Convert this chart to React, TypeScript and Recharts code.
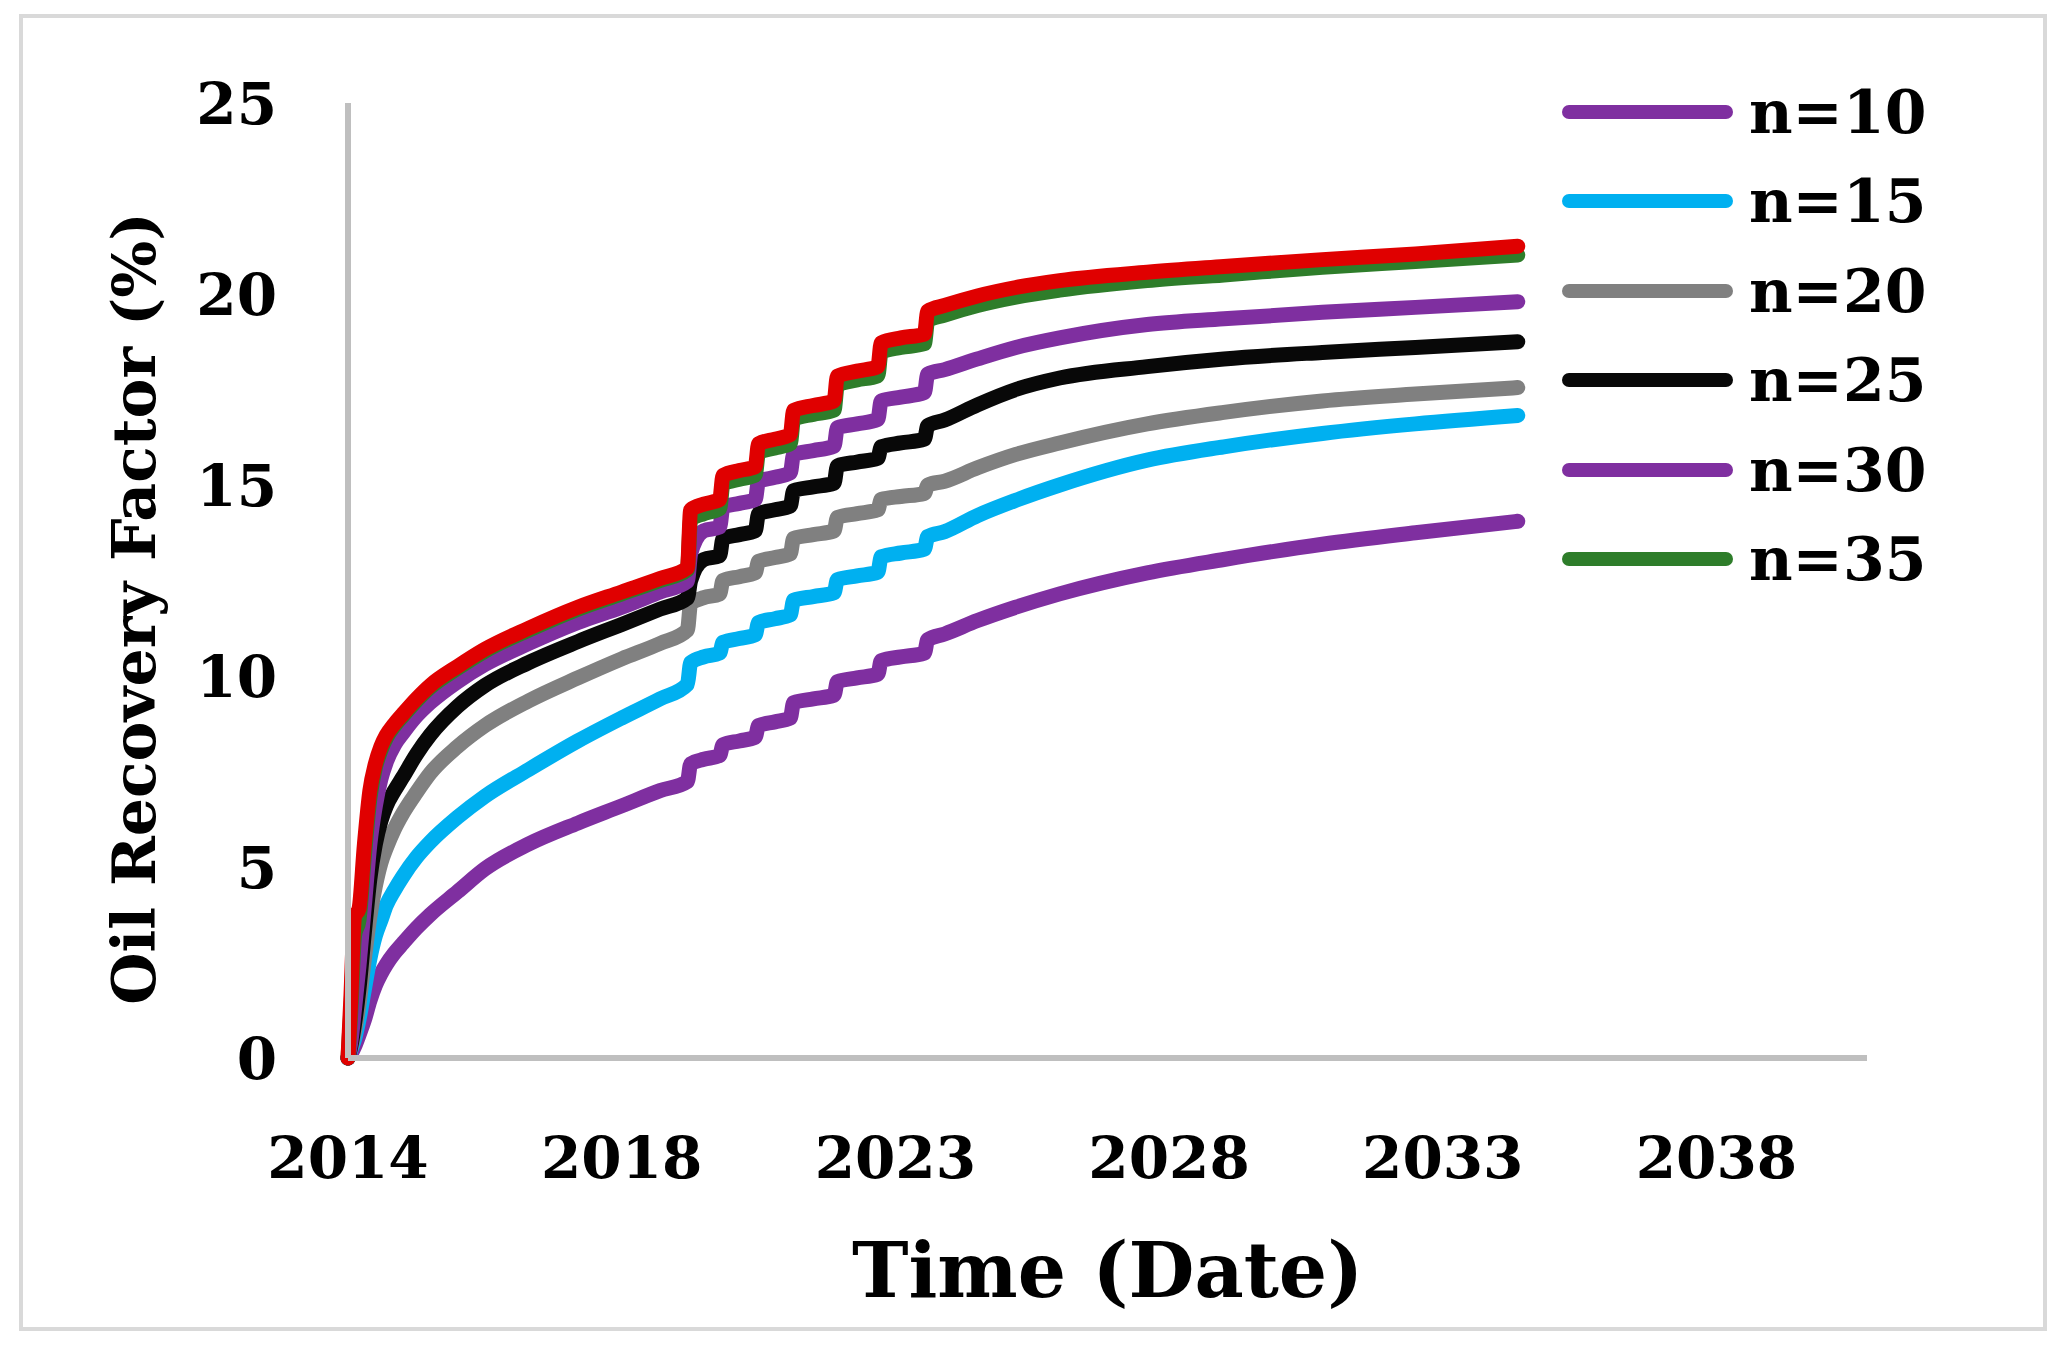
import { LineChart, Line, XAxis, YAxis, Legend, Label } from "recharts";

// time in years after Jan 2014
const years = [
  0, 0.05, 0.12, 0.2, 0.3, 0.4, 0.5, 0.6, 0.7, 0.85,
  1.0, 1.25, 1.5, 2.0, 2.5, 3.3, 4.2, 5.0, 5.7, 6.2,
  6.26, 6.5, 6.79, 6.85, 7.15, 7.44, 7.5, 7.8, 8.08, 8.14,
  8.5, 8.88, 8.94, 9.3, 9.68, 9.74, 10.1, 10.53, 10.59, 10.9,
  11.5, 12.2, 13.0, 14.6, 16.0, 17.8, 19.5, 21.37,
];

const n10 = [
  0, 0.1, 0.3, 0.6, 1.0, 1.5, 1.9, 2.2, 2.45, 2.75,
  3.0, 3.4, 3.75, 4.35, 4.95, 5.6, 6.15, 6.6, 7.0, 7.24,
  7.7, 7.82, 7.92, 8.2, 8.3, 8.4, 8.7, 8.8, 8.9, 9.3,
  9.4, 9.5, 9.85, 9.95, 10.05, 10.4, 10.5, 10.6, 10.95, 11.1,
  11.45, 11.8, 12.15, 12.7, 13.05, 13.45, 13.75, 14.05,
];
const n15 = [
  0, 0.2, 0.5, 1.0, 1.8, 2.6, 3.2, 3.6, 4.0, 4.4,
  4.75, 5.25, 5.65, 6.3, 6.85, 7.55, 8.3, 8.9, 9.4, 9.78,
  10.35, 10.5, 10.6, 10.88, 10.98, 11.08, 11.4, 11.5, 11.6, 11.98,
  12.08, 12.18, 12.52, 12.62, 12.72, 13.12, 13.22, 13.32, 13.65, 13.78,
  14.2, 14.6, 15.0, 15.65, 16.0, 16.35, 16.6, 16.82,
];
const n20 = [
  0, 0.25, 0.7, 1.4, 2.6, 3.7, 4.5, 5.1, 5.5, 6.0,
  6.4, 6.95, 7.45, 8.15, 8.7, 9.35, 9.95, 10.45, 10.85, 11.2,
  11.9, 12.05, 12.15, 12.5, 12.6, 12.7, 13.0, 13.1, 13.2, 13.6,
  13.7, 13.8, 14.15, 14.25, 14.35, 14.62, 14.7, 14.78, 15.0, 15.1,
  15.45, 15.8, 16.1, 16.6, 16.9, 17.2, 17.38, 17.55,
];
const n25 = [
  0, 0.3, 0.9, 1.8, 3.3, 4.7, 5.6, 6.2, 6.6, 7.0,
  7.35, 7.95, 8.45, 9.2, 9.75, 10.35, 10.9, 11.35, 11.75, 12.04,
  12.5, 13.05, 13.15, 13.6, 13.7, 13.8, 14.25, 14.35, 14.45, 14.85,
  14.95, 15.05, 15.5, 15.6, 15.7, 16.0, 16.1, 16.2, 16.55, 16.7,
  17.1, 17.5, 17.8, 18.1, 18.3, 18.47, 18.6, 18.75,
];
const n30 = [
  0, 0.4, 1.3, 2.4, 4.0, 5.6, 6.6, 7.3, 7.75, 8.2,
  8.5, 8.95, 9.3, 9.85, 10.3, 10.85, 11.4, 11.8, 12.2, 12.48,
  13.2, 13.8, 13.9, 14.42, 14.52, 14.62, 15.1, 15.2, 15.32, 15.8,
  15.9, 16.02, 16.5, 16.6, 16.72, 17.2, 17.3, 17.42, 17.9, 18.02,
  18.3, 18.6, 18.85, 19.2, 19.35, 19.52, 19.65, 19.8,
];
const n35 = [
  0, 1.2, 3.2, 3.6, 5.3, 6.8, 7.6, 8.05, 8.38, 8.7,
  8.95, 9.35, 9.7, 10.2, 10.65, 11.2, 11.75, 12.15, 12.5, 12.78,
  14.1, 14.25, 14.38, 15.02, 15.15, 15.26, 15.85, 15.97, 16.08, 16.72,
  16.85, 16.96, 17.62, 17.75, 17.86, 18.48, 18.6, 18.7, 19.3, 19.45,
  19.7, 19.92, 20.1, 20.35, 20.5, 20.7, 20.85, 21.02,
];
// red curve has no legend entry in the original
const n40 = [
  0, 1.5, 3.7, 3.9, 5.6, 7.0, 7.7, 8.15, 8.45, 8.75,
  9.0, 9.4, 9.75, 10.25, 10.7, 11.25, 11.8, 12.2, 12.55, 12.83,
  14.35, 14.5, 14.62, 15.25, 15.38, 15.48, 16.08, 16.2, 16.32, 16.95,
  17.08, 17.2, 17.85, 17.98, 18.1, 18.72, 18.85, 18.95, 19.55, 19.7,
  19.95, 20.17, 20.35, 20.57, 20.72, 20.9, 21.05, 21.25,
];

const xTicks = [0, 5, 10, 15, 20, 25];
const yearLabels = ["2014", "2018", "2023", "2028", "2033", "2038"];
const yTicks = [0, 5, 10, 15, 20, 25];

const series = [
  { key: "n10", name: "n=10", color: "#7f2fa0", values: n10, legend: true },
  { key: "n15", name: "n=15", color: "#00b0f0", values: n15, legend: true },
  { key: "n20", name: "n=20", color: "#808080", values: n20, legend: true },
  { key: "n25", name: "n=25", color: "#080808", values: n25, legend: true },
  { key: "n30", name: "n=30", color: "#7f2fa0", values: n30, legend: true },
  { key: "n35", name: "n=35", color: "#2e7d2a", values: n35, legend: true },
  { key: "n40", name: "n=40", color: "#e00000", values: n40, legend: false },
];
const legendNames = series.filter((s) => s.legend).map((s) => s.name);

const data = years.map((t, i) => {
  const row: any = { t };
  series.forEach((s) => (row[s.key] = s.values[i]));
  return row;
});

const FONT = "'DejaVu Serif', serif";
const AXIS_GRAY = "#bfbfbf";
const LINE_W = 15;

const renderLegend = (props: any) => (
  <div>
    {(props.payload || [])
      .filter((p: any) => legendNames.includes(p.value))
      .map((p: any) => (
        <div key={p.value} style={{ display: "flex", alignItems: "center", height: 89.5 }}>
          <svg width={171} height={24}>
            <line x1={7} y1={12} x2={164} y2={12} stroke={p.color} strokeWidth={LINE_W - 1} strokeLinecap="round" />
          </svg>
          <span style={{ marginLeft: 16, fontFamily: FONT, fontWeight: 700, fontSize: 60, color: "#000", lineHeight: 1 }}>
            {p.value}
          </span>
        </div>
      ))}
  </div>
);

const YTitle = (props: any) => {
  const vb = props.viewBox || { x: 0, y: 103, width: 348, height: 955 };
  const cx = vb.x + 155;
  const cy = vb.y + vb.height / 2 + 28;
  return (
    <text x={cx} y={cy} transform={`rotate(-90 ${cx} ${cy})`} textAnchor="middle"
      fontFamily={FONT} fontWeight={700} fontSize={60} fill="#000">
      Oil Recovery Factor (%)
    </text>
  );
};

const XTitle = (props: any) => {
  const vb = props.viewBox || { x: 348, y: 1058, width: 1519, height: 291 };
  return (
    <text x={vb.x + vb.width / 2} y={vb.y + 239} textAnchor="middle"
      fontFamily={FONT} fontWeight={700} fontSize={76} fill="#000">
      Time (Date)
    </text>
  );
};

export default function App() {
  return (
    <div style={{ position: "absolute", left: 0, top: 0, width: 2065, height: 1349, background: "#fff" }}>
      <div style={{ position: "absolute", left: 19, top: 14, width: 2028, height: 1317, border: "4px solid #d9d9d9", boxSizing: "border-box" }} />
      <div style={{ position: "absolute", left: 0, top: 0 }}>
        <LineChart width={2065} height={1349} data={data} margin={{ top: 103, right: 198, bottom: 0, left: 0 }}>
          <XAxis
            dataKey="t"
            type="number"
            domain={[0, 27.75]}
            ticks={xTicks}
            tickFormatter={(v: number, i: number) => yearLabels[i] ?? String(v)}
            height={291}
            axisLine={{ stroke: AXIS_GRAY, strokeWidth: 6 }}
            tickLine={false}
            tickSize={0}
            tickMargin={79}
            tick={{ fill: "#000", fontSize: 58, fontFamily: FONT, fontWeight: 700 }}
            interval={0}
          >
            <Label content={<XTitle />} />
          </XAxis>
          <YAxis
            type="number"
            domain={[0, 25]}
            ticks={yTicks}
            width={348}
            axisLine={{ stroke: AXIS_GRAY, strokeWidth: 6 }}
            tickLine={false}
            tickSize={0}
            tickMargin={71}
            tick={{ fill: "#000", fontSize: 58, fontFamily: FONT, fontWeight: 700 }}
            interval={0}
          >
            <Label content={<YTitle />} />
          </YAxis>
          {series.map((s) => (
            <Line
              key={s.key}
              dataKey={s.key}
              name={s.name}
              type="monotone"
              stroke={s.color}
              strokeWidth={LINE_W}
              strokeLinecap="round"
              strokeLinejoin="round"
              dot={false}
              activeDot={false}
              legendType={s.legend ? "line" : "none"}
              isAnimationActive={false}
            />
          ))}
          <Legend
            layout="vertical"
            align="center"
            verticalAlign="middle"
            content={renderLegend}
            wrapperStyle={{ left: 1562, top: 67, width: 480, height: 540 }}
          />
        </LineChart>
      </div>
    </div>
  );
}
